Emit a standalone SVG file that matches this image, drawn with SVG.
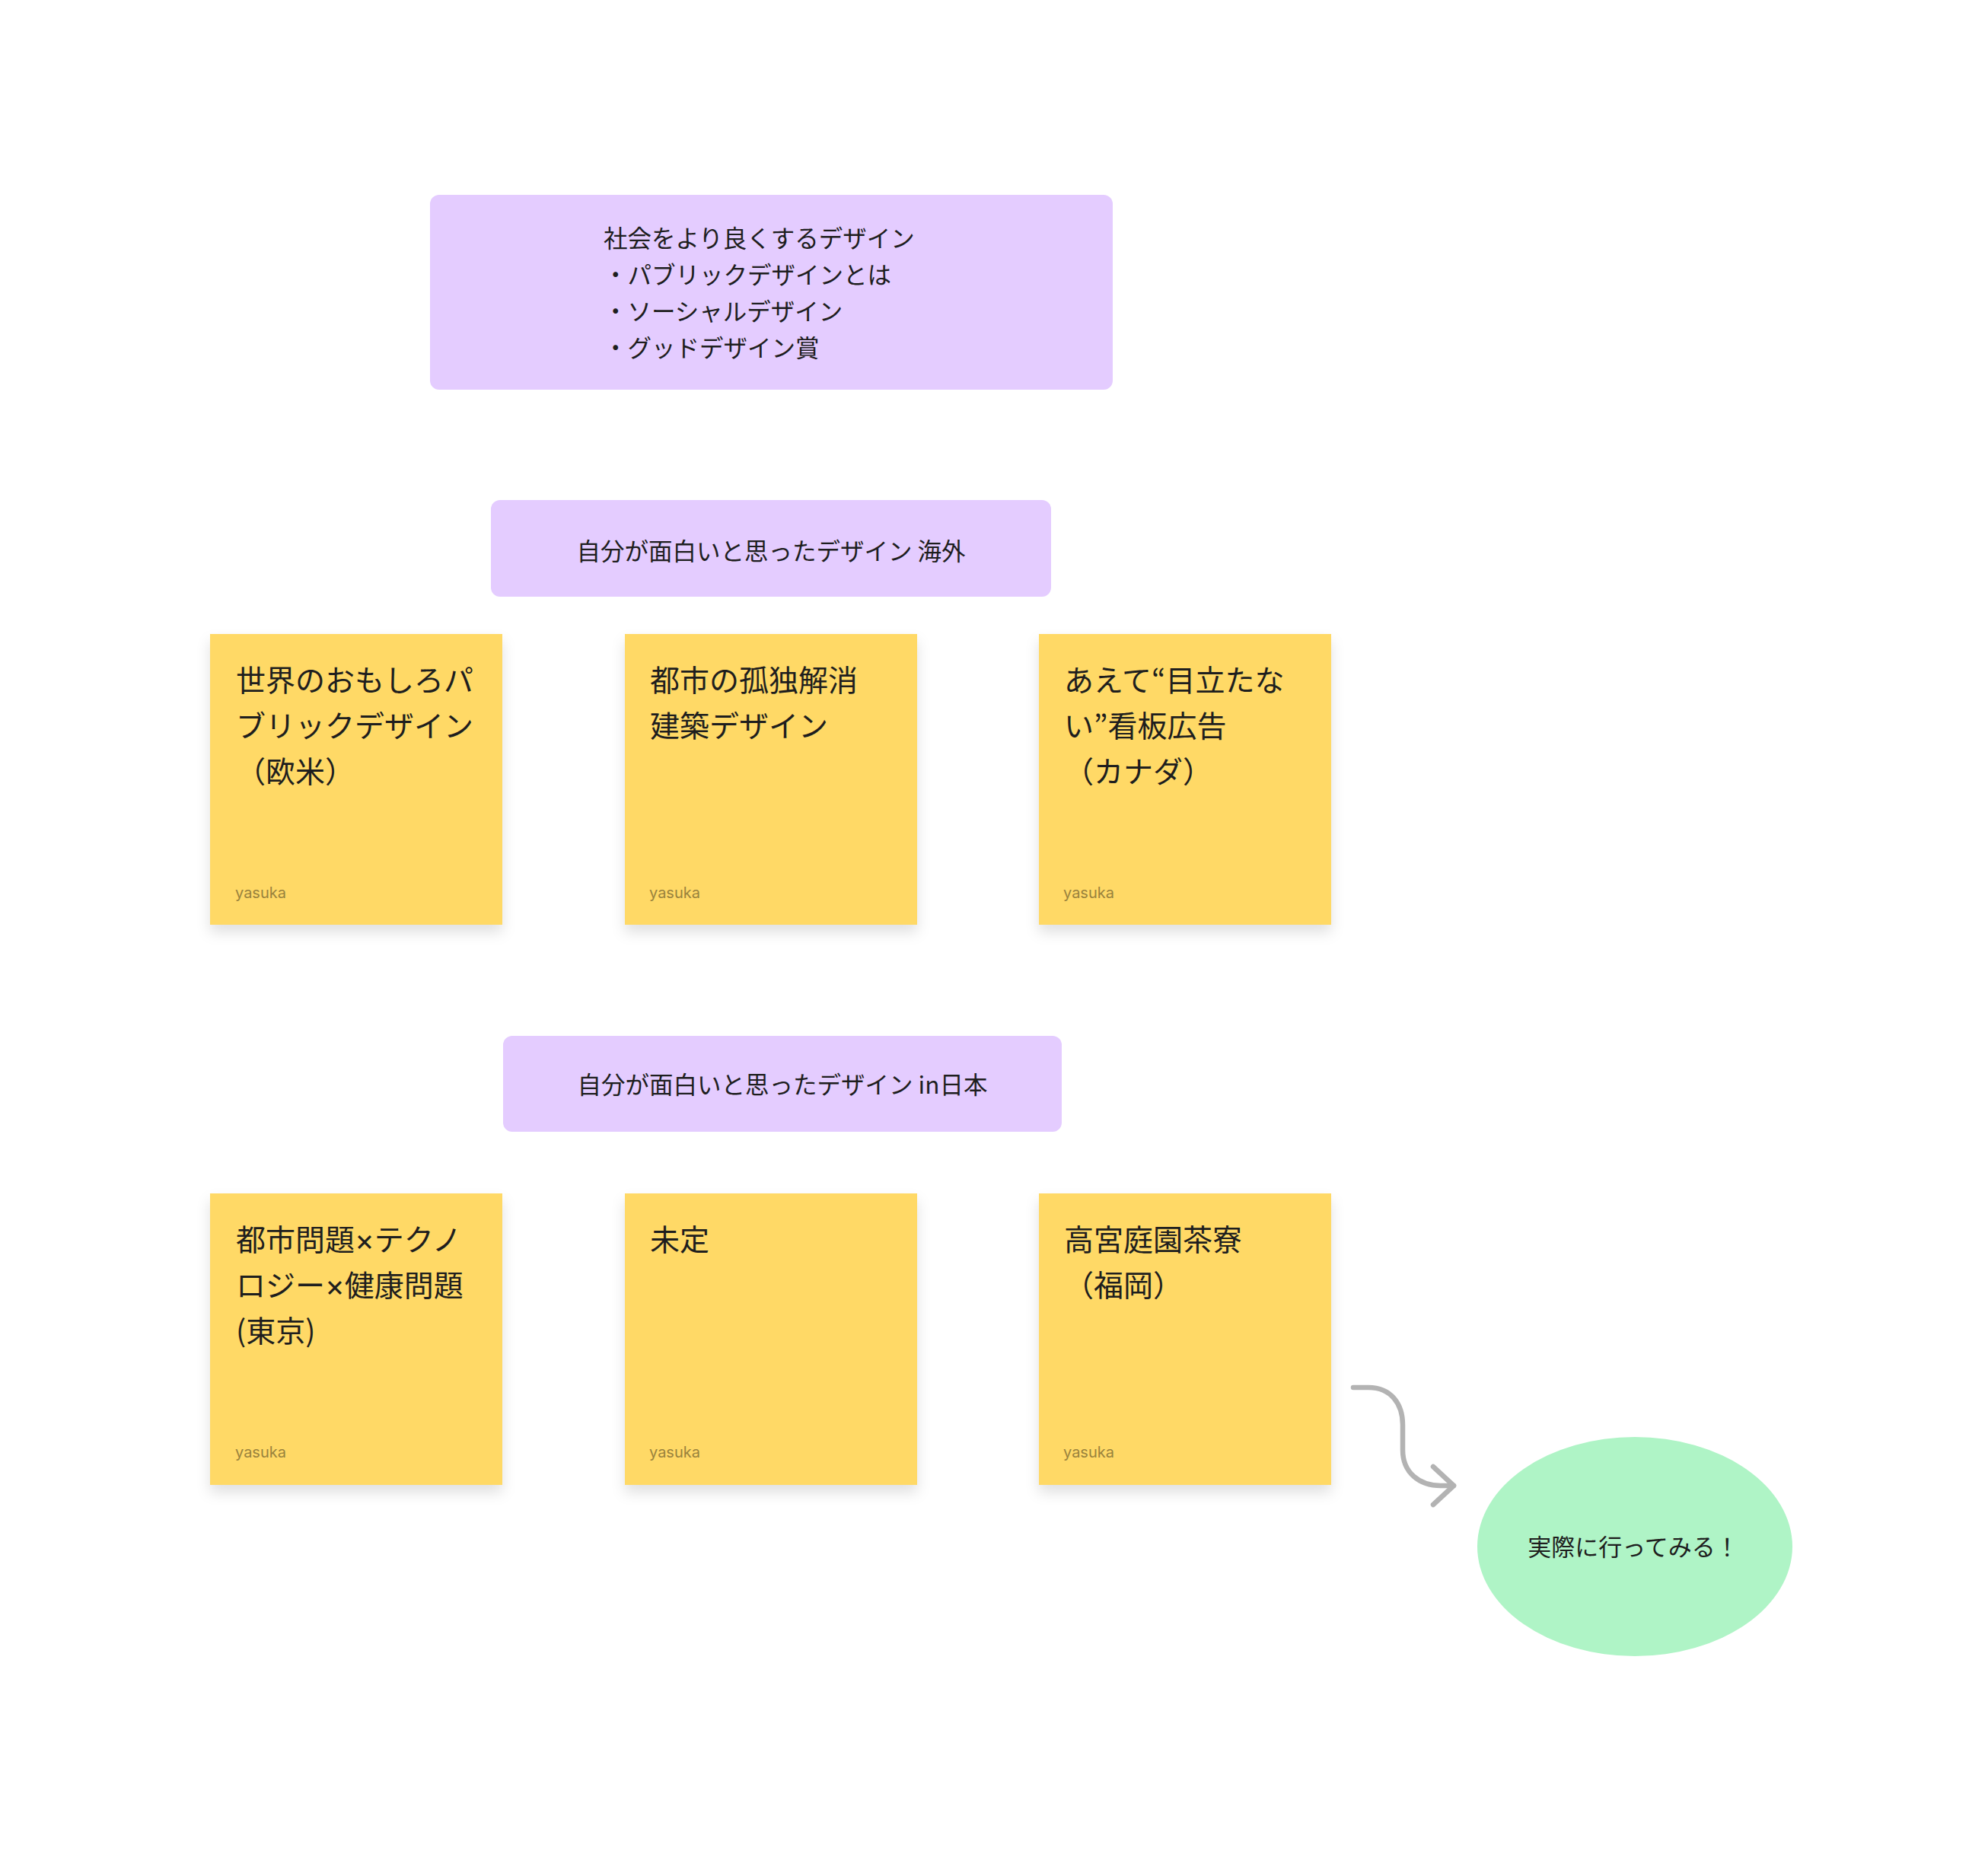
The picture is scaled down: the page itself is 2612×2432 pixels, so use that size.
<svg xmlns="http://www.w3.org/2000/svg" width="2612" height="2432" viewBox="0 0 2612 2432">
<style>
.jp{font-family:"Noto Sans CJK JP","Noto Sans",sans-serif;fill:#1E1E1E}
.sec{font-size:31.5px}
.note{font-size:39px}
.mul{font-family:Inter,"Liberation Sans",sans-serif}
.sticky{fill:#FFD966}
.purple{fill:#E4CCFF}
.author{font-family:Inter,"Liberation Sans",sans-serif;font-size:20px;fill:#99823D}
.conn{fill:none;stroke:#B3B3B3;stroke-width:6.5;stroke-linecap:round;stroke-linejoin:round}
</style>
<defs>
<filter id="shadow" x="-20%" y="-20%" width="140%" height="150%">
<feDropShadow dx="0" dy="10" stdDeviation="9" flood-color="#000" flood-opacity="0.12"/>
</filter>
</defs>
<rect width="2612" height="2432" fill="#FFFFFF"/>

<g id="section-top">
<rect class="purple" x="565" y="256" width="897" height="256" rx="12"/>
<text class="jp sec" x="793" y="325">社会をより良くするデザイン</text>
<text class="jp sec" x="793" y="373">・パブリックデザインとは</text>
<text class="jp sec" x="793" y="421">・ソーシャルデザイン</text>
<text class="jp sec" x="793" y="469">・グッドデザイン賞</text>
</g>

<g id="section-overseas">
<rect class="purple" x="645" y="657" width="736" height="127" rx="12"/>
<text class="jp sec" x="1013" y="736" text-anchor="middle">自分が面白いと思ったデザイン 海外</text>
</g>

<g id="note-1">
<rect class="sticky" x="276" y="833" width="384" height="382" filter="url(#shadow)"/>
<text class="jp note" x="310" y="908">世界のおもしろパ</text>
<text class="jp note" x="310" y="968">ブリックデザイン</text>
<text class="jp note" x="310" y="1028">（欧米）</text>
<text class="author" x="309" y="1180">yasuka</text>
</g>

<g id="note-2">
<rect class="sticky" x="821" y="833" width="384" height="382" filter="url(#shadow)"/>
<text class="jp note" x="854" y="908">都市の孤独解消</text>
<text class="jp note" x="854" y="968">建築デザイン</text>
<text class="author" x="853" y="1180">yasuka</text>
</g>

<g id="note-3">
<rect class="sticky" x="1365" y="833" width="384" height="382" filter="url(#shadow)"/>
<text class="jp note" x="1398" y="908">あえて“目立たな</text>
<text class="jp note" x="1398" y="968">い”看板広告</text>
<text class="jp note" x="1398" y="1028">（カナダ）</text>
<text class="author" x="1397" y="1180">yasuka</text>
</g>

<g id="section-japan">
<rect class="purple" x="661" y="1361" width="734" height="126" rx="12"/>
<text class="jp sec" x="1028" y="1437" text-anchor="middle">自分が面白いと思ったデザイン in日本</text>
</g>

<g id="note-4">
<rect class="sticky" x="276" y="1568" width="384" height="383" filter="url(#shadow)"/>
<text class="jp note" x="310" y="1643">都市問題<tspan class="mul">×</tspan>テクノ</text>
<text class="jp note" x="310" y="1703">ロジー<tspan class="mul">×</tspan>健康問題</text>
<text class="jp note" x="310" y="1763">(東京)</text>
<text class="author" x="309" y="1915">yasuka</text>
</g>

<g id="note-5">
<rect class="sticky" x="821" y="1568" width="384" height="383" filter="url(#shadow)"/>
<text class="jp note" x="854" y="1643">未定</text>
<text class="author" x="853" y="1915">yasuka</text>
</g>

<g id="note-6">
<rect class="sticky" x="1365" y="1568" width="384" height="383" filter="url(#shadow)"/>
<text class="jp note" x="1398" y="1643">高宮庭園茶寮</text>
<text class="jp note" x="1398" y="1703">（福岡）</text>
<text class="author" x="1397" y="1915">yasuka</text>
</g>

<g id="visit">
<ellipse cx="2148" cy="2032" rx="207" ry="144" fill="#AFF4C6"/>
<text class="jp" x="2146" y="2044" font-size="31" text-anchor="middle">実際に行ってみる！</text>
</g>

<g id="connectors">
<path class="conn" d="M1778,1823 H1798 C1828,1823 1843,1845 1843,1872 V1905 C1843,1935 1865,1952 1893,1952 H1910"/>
<path class="conn" d="M1883,1927 L1910,1952 L1883,1977"/>
</g>
</svg>
